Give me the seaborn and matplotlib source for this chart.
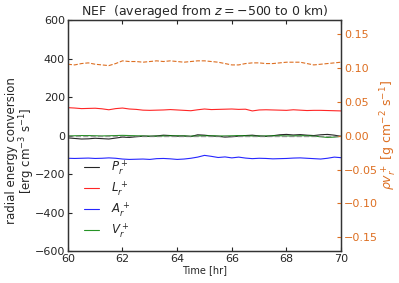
import numpy as np
import pandas as pd
import seaborn as sns
import matplotlib
matplotlib.use('Agg')
import matplotlib.pyplot as plt

# tempo em horas (passo de 0.25 hr)
time_hr = np.linspace(60, 70, 41)

p_r = [-12, -15, -18, -17, -14, -16, -18, -13, -8, -10, -6, -3, -4, -2, 2, 0, -3, -2, -5, 4, 2,
       -2, -4, -8, -6, -3, 0, 2, -2, -4, -1, 4, 6, 3, 5, 2, 0, 4, 6, 2, -4]
l_r = [145, 143, 140, 141, 142, 139, 134, 140, 143, 138, 136, 132, 131, 132, 133, 135, 133, 131, 129, 134, 138,
       135, 136, 137, 138, 136, 137, 128, 133, 134, 133, 132, 131, 134, 132, 130, 131, 131, 130, 129, 128]
a_r = [-118, -119, -118, -117, -119, -118, -116, -118, -122, -124, -123, -122, -124, -120, -119, -121, -124, -122, -118, -112, -103,
       -108, -114, -111, -116, -112, -117, -120, -118, -119, -121, -120, -119, -117, -116, -118, -120, -122, -118, -112, -115]
v_r = [-2, -1, 0, 0, -1, -2, -1, 0, 1, 0, -1, -2, -3, -3, -2, -1, -1, -2, -3, -2, -1,
       -1, -2, -2, -1, 0, -1, -2, -3, -2, -1, -1, -2, -2, -1, -1, -3, -6, -10, -8, -4]
rho_v = [0.105, 0.104, 0.106, 0.107, 0.105, 0.104, 0.103, 0.106, 0.110, 0.109, 0.109, 0.108, 0.109, 0.110, 0.109, 0.110,
         0.109, 0.108, 0.109, 0.110, 0.110, 0.109, 0.108, 0.106, 0.104, 0.104, 0.106, 0.107, 0.107, 0.106, 0.106, 0.107,
         0.108, 0.108, 0.108, 0.106, 0.104, 0.105, 0.106, 0.107, 0.108]

labels = [r'$P_r^+$', r'$L_r^+$', r'$A_r^+$', r'$V_r^+$']
colors = ['k', 'r', 'b', 'g']
orange = '#dd6f22'

df = pd.DataFrame({'t': time_hr, 'P': p_r, 'L': l_r, 'A': a_r, 'V': v_r, 'rho': rho_v})

sns.set_style('white')
plt.rcParams['xtick.direction'] = 'in'
plt.rcParams['ytick.direction'] = 'in'

fig = plt.figure(figsize=(3.99, 2.83), dpi=100)
ax = fig.add_axes([0.170, 0.113, 0.685, 0.816])

for col, lab, c in zip(['P', 'L', 'A', 'V'], labels, colors):
    sns.lineplot(data=df, x='t', y=col, ax=ax, color=c, lw=0.8, alpha=0.85, label=lab)

ax.set_xlim(60, 70)
ax.set_ylim(-600, 600)
ax.set_xticks([60, 62, 64, 66, 68, 70])
ax.set_yticks([-600, -400, -200, 0, 200, 400, 600])
ax.tick_params(axis='both', labelsize=8, length=3, top=True, bottom=True, left=True, pad=2)
ax.set_xlabel('Time [hr]', fontsize=7, labelpad=1)
ax.set_ylabel('radial energy conversion\n[erg cm$^{-3}$ s$^{-1}$]', fontsize=8.5,
              linespacing=0.95)
ax.yaxis.set_label_coords(-0.113, 0.435)
ax.set_title(r'NEF  (averaged from $z=-500$ to $0$ km)', fontsize=9, pad=3)
for s in ax.spines.values():
    s.set_color('#333333')
    s.set_linewidth(1.0)

leg = ax.legend(loc='lower left', frameon=False, fontsize=8.5, handlelength=1.3,
                handletextpad=1.0, labelspacing=0.2, borderaxespad=0.5,
                bbox_to_anchor=(0.02, 0.0))

ax2 = ax.twinx()
ax2.axhline(0, color='gray', ls='--', lw=1.0, alpha=0.7)
sns.lineplot(data=df, x='t', y='rho', ax=ax2, color=orange, lw=0.8, ls='--')
ax2.set_ylim(-0.17, 0.17)
ax2.set_yticks([-0.15, -0.10, -0.05, 0.00, 0.05, 0.10, 0.15])
ax2.tick_params(axis='y', colors=orange, labelsize=8, length=3, direction='in', pad=2)
ax2.set_ylabel(r'$\rho v_r^+$ [g cm$^{-2}$ s$^{-1}$]', color=orange, fontsize=9, labelpad=1)
ax2.set_xlabel('')
for s in ax2.spines.values():
    s.set_color('#333333')

fig.savefig('out.png', dpi=100)
plt.close(fig)
